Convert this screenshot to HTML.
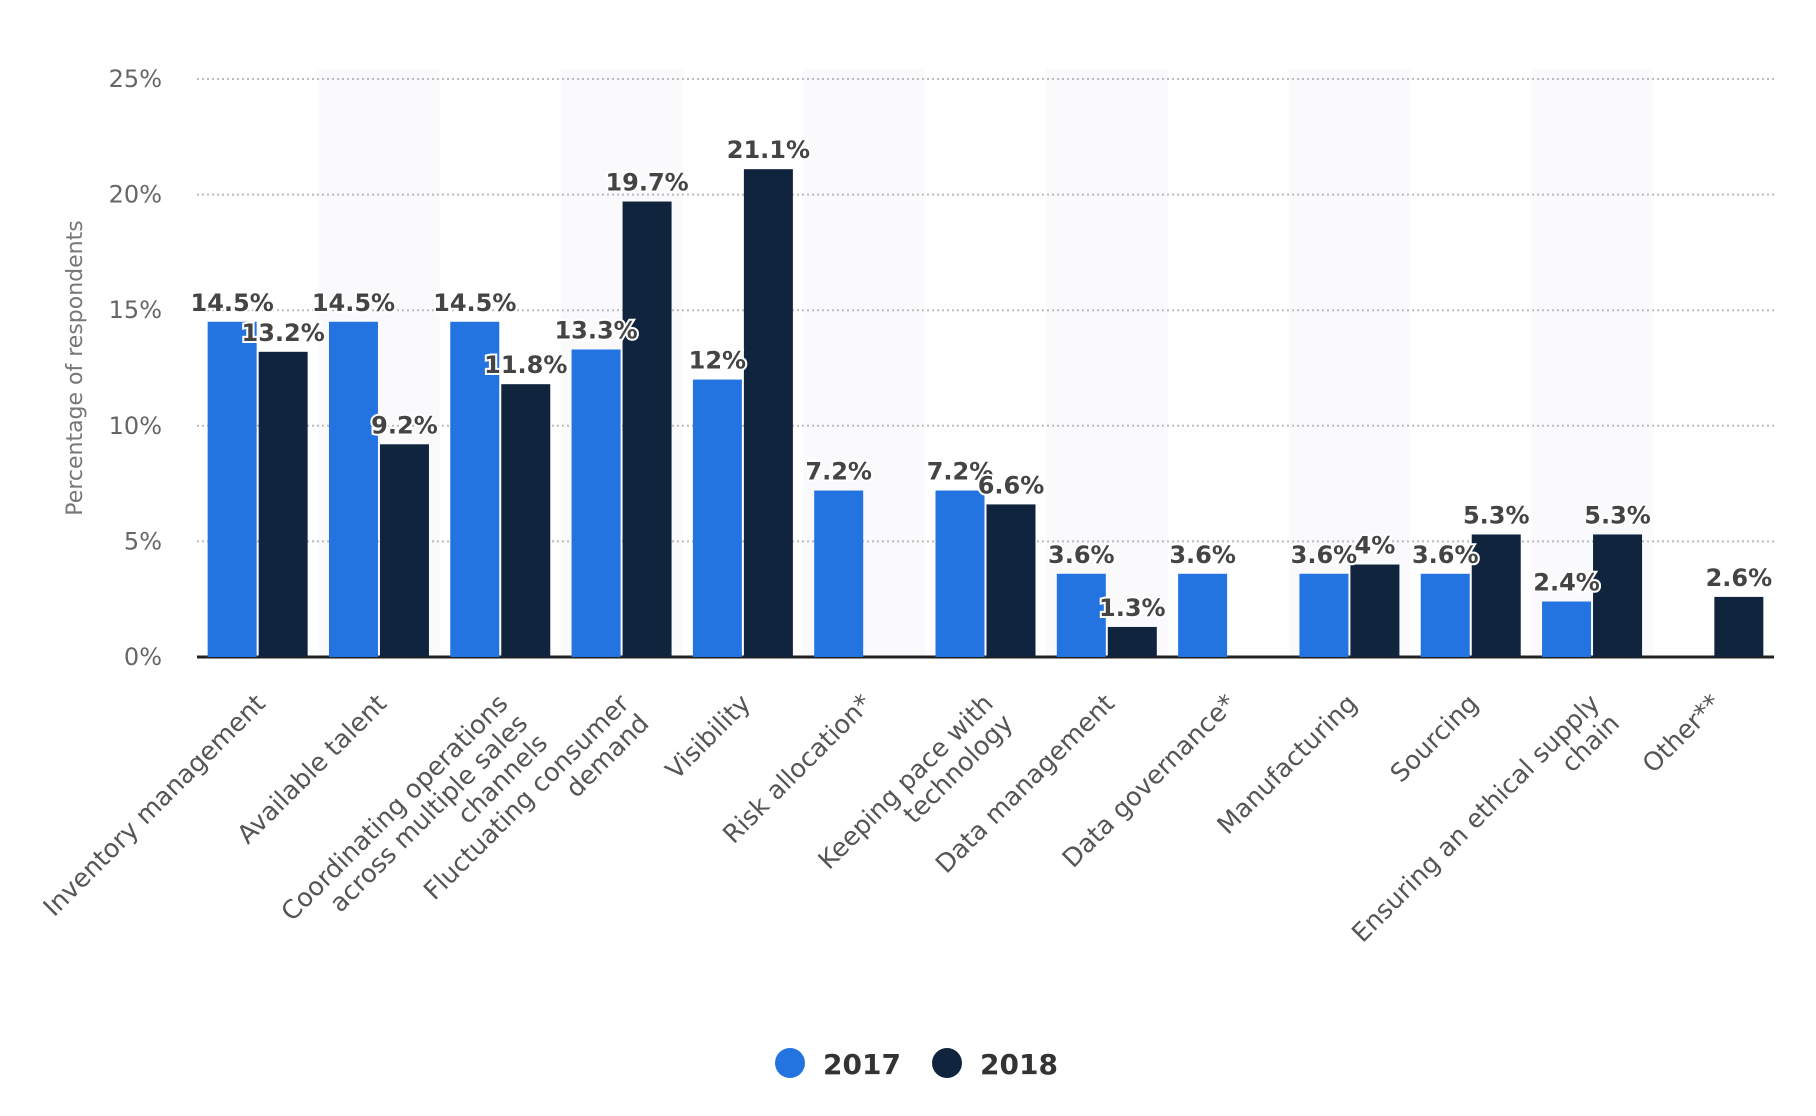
<!DOCTYPE html>
<html><head><meta charset="utf-8"><style>
body{margin:0;background:#fff;}
svg{display:block;font-family:"DejaVu Sans","Liberation Sans",sans-serif;}
</style></head><body>
<svg id="chart" width="1816" height="1116" viewBox="0 0 1816 1116" xmlns="http://www.w3.org/2000/svg">
<g id="bands"></g><g id="grid"></g><g id="bars"></g><g id="vals"></g><g id="xlabels"></g>
<text transform="translate(82,368) rotate(-90)" text-anchor="middle" font-size="22" fill="#777">Percentage of respondents</text>
<g>
<circle cx="790" cy="1063" r="15" fill="#2374e1"/>
<text x="823" y="1074" font-size="28" font-weight="bold" fill="#333">2017</text>
<circle cx="947" cy="1063" r="15" fill="#10243e"/>
<text x="980" y="1074" font-size="28" font-weight="bold" fill="#333">2018</text>
</g>
</svg>
<script>
const categories=[["Inventory management"],["Available talent"],["Coordinating operations","across multiple sales","channels"],["Fluctuating consumer","demand"],["Visibility"],["Risk allocation*"],["Keeping pace with","technology"],["Data management"],["Data governance*"],["Manufacturing"],["Sourcing"],["Ensuring an ethical supply","chain"],["Other**"]];
const values2017=[14.5,14.5,14.5,13.3,12,7.2,7.2,3.6,3.6,3.6,3.6,2.4,null];
const values2018=[13.2,9.2,11.8,19.7,21.1,null,6.6,1.3,null,4,5.3,5.3,2.6];
const yTicks=[0,5,10,15,20,25];
const NS="http://www.w3.org/2000/svg";
const X0=197,X1=1774,Y0=657,Ytop=79,YMAX=25;
const n=categories.length,cw=(X1-X0)/n,bw=49;
const y=v=>Y0-(v/YMAX)*(Y0-Ytop);
const cx=i=>X0+cw*(i+0.5);
function mk(tag,attrs,parent){const e=document.createElementNS(NS,tag);for(const k in attrs)e.setAttribute(k,attrs[k]);document.getElementById(parent).appendChild(e);return e;}
for(let i=1;i<n;i+=2){const r=mk('rect',{x:X0+cw*i,y:Ytop-10,width:cw,height:Y0-Ytop+10,fill:'#faf9fc'},'bands');

}
yTicks.forEach(t=>{
if(t>0){const l=mk('line',{x1:X0,x2:X1,y1:y(t),y2:y(t),stroke:'#bbb','stroke-width':2,'stroke-dasharray':'2 3'},'grid');

}
const tx=mk('text',{x:162,y:y(t)+8,'text-anchor':'end','font-size':24,fill:'#666'},'grid');


tx.textContent=t+'%';});
const ax=mk('line',{x1:X0,x2:X1,y1:Y0,y2:Y0,stroke:'#222','stroke-width':3},'grid');


function bar(v,x0,fill,name){if(v==null)return;
const r=mk('rect',{x:x0,y:y(v),width:bw,height:Y0-y(v),fill:fill},'bars');


const t=mk('text',{x:x0+bw/2,y:y(v)-11,'text-anchor':'middle','font-size':24,'font-weight':'bold',fill:'#444',stroke:'#fff','stroke-width':4,'paint-order':'stroke'},'vals');


t.textContent=v+'%';}
categories.forEach((c,i)=>{
bar(values2017[i],cx(i)-bw-1,'#2374e1','bar-2017');
bar(values2018[i],cx(i)+1,'#10243e','bar-2018');
const px=cx(i)+9,py=705;
const t=mk('text',{transform:`translate(${px},${py}) rotate(-45)`,'text-anchor':'end','font-size':25.5,fill:'#555'},'xlabels');


c.forEach((line,k)=>{const s=document.createElementNS(NS,'tspan');s.setAttribute('x',0);s.setAttribute('y',k*28);s.textContent=line;t.appendChild(s);});
});
</script>
</body></html>
